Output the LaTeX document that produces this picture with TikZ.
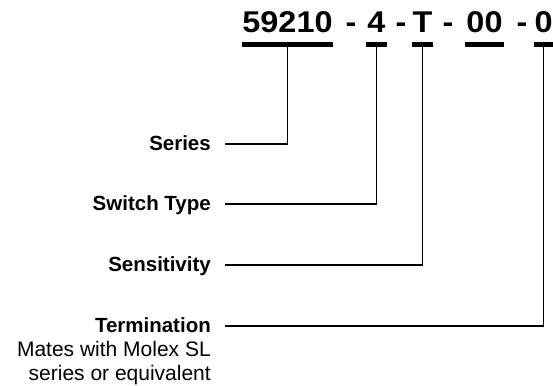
\documentclass[tikz,border=0pt]{standalone}
\usepackage{fontspec}
\setmainfont{Liberation Sans}
\newfontfamily\codefont[FakeStretch=1.08]{Liberation Sans}
\usetikzlibrary{calc}

\begin{document}
\begin{tikzpicture}[x=1pt,y=-1pt,
          code/.style={font={\codefont\bfseries\fontsize{30}{30}\selectfont},
              inner sep=0pt,anchor=base},
          sep/.style={code},
          lbl/.style={font={\bfseries\fontsize{20.5}{24}\selectfont},
              inner sep=0pt,anchor=base east,text height=15pt,text depth=3pt},
          note/.style={font={\fontsize{21}{24}\selectfont},
              inner sep=0pt,anchor=base east,align=right},
          bar/.style={line width=4.5pt},
          lead/.style={line width=1.8pt}]
        \useasboundingbox (0,0) rectangle (553,385);
        \node[code,minimum width=89pt] (c1) at (287.5,33) {59210};
        \node[sep] (d1) at (351,33) {-};
        \node[code,minimum width=21pt] (c2) at (376.5,33) {4};
        \node[sep] (d2) at (401,33) {-};
        \node[code,minimum width=19pt] (c3) at (422.5,33) {T};
        \node[sep] (d3) at (448,33) {-};
        \node[code,minimum width=39pt] (c4) at (484.5,33) {00};
        \node[sep] (d4) at (522,33) {-};
        \node[code,minimum width=19pt] (c5) at (543.5,33) {0};
        \foreach \n in {1,...,5}
          \draw[bar] ($(c\n.base west)+(0,11.5)$) -- ($(c\n.base east)+(0,11.5)$);

        \node[lbl] (lseries) at (211,150) {Series};
        \node[lbl] (lswitch) at (211,210) {Switch Type};
        \node[lbl] (lsens) at (211,271) {Sensitivity};
        \node[lbl] (lterm) at (211,332) {Termination};
        \node[note] (lmates) at (211,380) {Mates with Molex SL\\series or equivalent};

        \draw[lead] ([xshift=14pt]lseries.east) -| ($(c1.base)+(0,13.5)$);
        \draw[lead] ([xshift=14pt]lswitch.east) -| ($(c2.base)+(0,13.5)$);
        \draw[lead] ([xshift=14pt]lsens.east) -| ($(c3.base)+(0,13.5)$);
        \draw[lead] ([xshift=14pt]lterm.east) -| ($(c5.base)+(0,13.5)$);
      \end{tikzpicture}
\end{document}
